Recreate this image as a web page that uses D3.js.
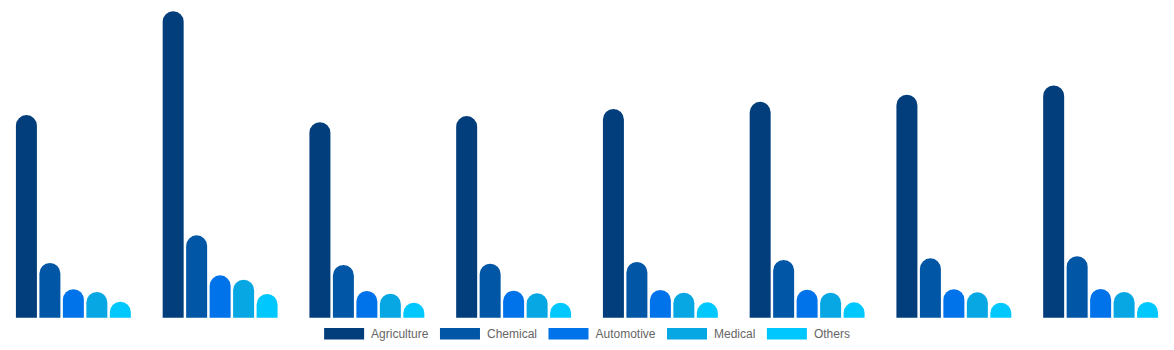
<!DOCTYPE html>
<html>
<head>
<meta charset="utf-8">
<script src="https://cdn.jsdelivr.net/npm/d3@7"></script>
<style>
html,body{margin:0;padding:0;background:#fff;}
svg{display:block;font-family:"Liberation Sans",Arial,sans-serif;}
</style>
</head>
<body>
<svg id="chart" width="1174" height="350"></svg>
<script>
const categories = ["2016","2017","2018","2019","2020","2021","2022","2023"];
const seriesNames = ["Agriculture","Chemical","Automotive","Medical","Others"];
const agriculture = [199, 301, 192, 198, 205, 212, 219, 228];
const chemical    = [53.7, 80.9, 51.8, 53, 54.7, 56.7, 58.3, 60.3];
const automotive  = [27.9, 41.6, 26.2, 26.5, 27.2, 27.5, 27.9, 28.2];
const medical     = [25.2, 37.3, 23.6, 24, 24.6, 24.6, 24.9, 25.2];
const others      = [15.7, 23.3, 14.7, 14.7, 15.1, 15.1, 14.7, 15.4];
const colors = ["#023e7b","#0156a6","#0072ea","#06a7e3","#00c8fe"];

const seriesValues = [agriculture, chemical, automotive, medical, others];

const W = 1174, H = 350;
const svg = d3.select("#chart");

const x0 = d3.scaleBand().domain(categories).range([0, W]).paddingInner(0.2).paddingOuter(0.1);
const x1 = d3.scaleBand().domain(seriesNames).range([0, x0.bandwidth()]).paddingInner(0.106).paddingOuter(0.053);
const y = d3.scaleLinear().domain([0, 312]).range([317.7, 0]);

function barPath(x, yTop, w, yBase) {
  const r = Math.min(w / 2, yBase - yTop);
  return `M${x},${yBase}V${yTop + r}A${r},${r} 0 0 1 ${x + r},${yTop}H${x + w - r}A${r},${r} 0 0 1 ${x + w},${yTop + r}V${yBase}Z`;
}

const groups = svg.append("g").selectAll("g")
  .data(categories)
  .join("g")
  .attr("transform", d => `translate(${x0(d)},0)`);

groups.selectAll("path")
  .data((c, i) => seriesNames.map((s, k) => ({ s, k, v: seriesValues[k][i] })))
  .join("path")
  .attr("d", d => barPath(x1(d.s), y(d.v), x1.bandwidth(), y(0)))
  .attr("fill", d => colors[d.k]);

// Legend
const legend = svg.append("g");
const items = legend.selectAll("g").data(seriesNames).join("g");
items.append("rect")
  .attr("x", 0).attr("y", 328).attr("width", 40).attr("height", 11.5)
  .attr("fill", (d, i) => colors[i]);
items.append("text")
  .attr("x", 47).attr("y", 333.8)
  .attr("dominant-baseline", "central")
  .attr("font-size", 12)
  .attr("fill", "#666")
  .text(d => d);

const gap = 11.5;
let widths = [];
items.each(function () {
  widths.push(47 + d3.select(this).select("text").node().getComputedTextLength());
});
const total = d3.sum(widths) + gap * (widths.length - 1);
let cx = (W - total) / 2;
items.attr("transform", (d, i) => {
  const t = `translate(${cx},0)`;
  cx += widths[i] + gap;
  return t;
});
</script>
</body>
</html>
